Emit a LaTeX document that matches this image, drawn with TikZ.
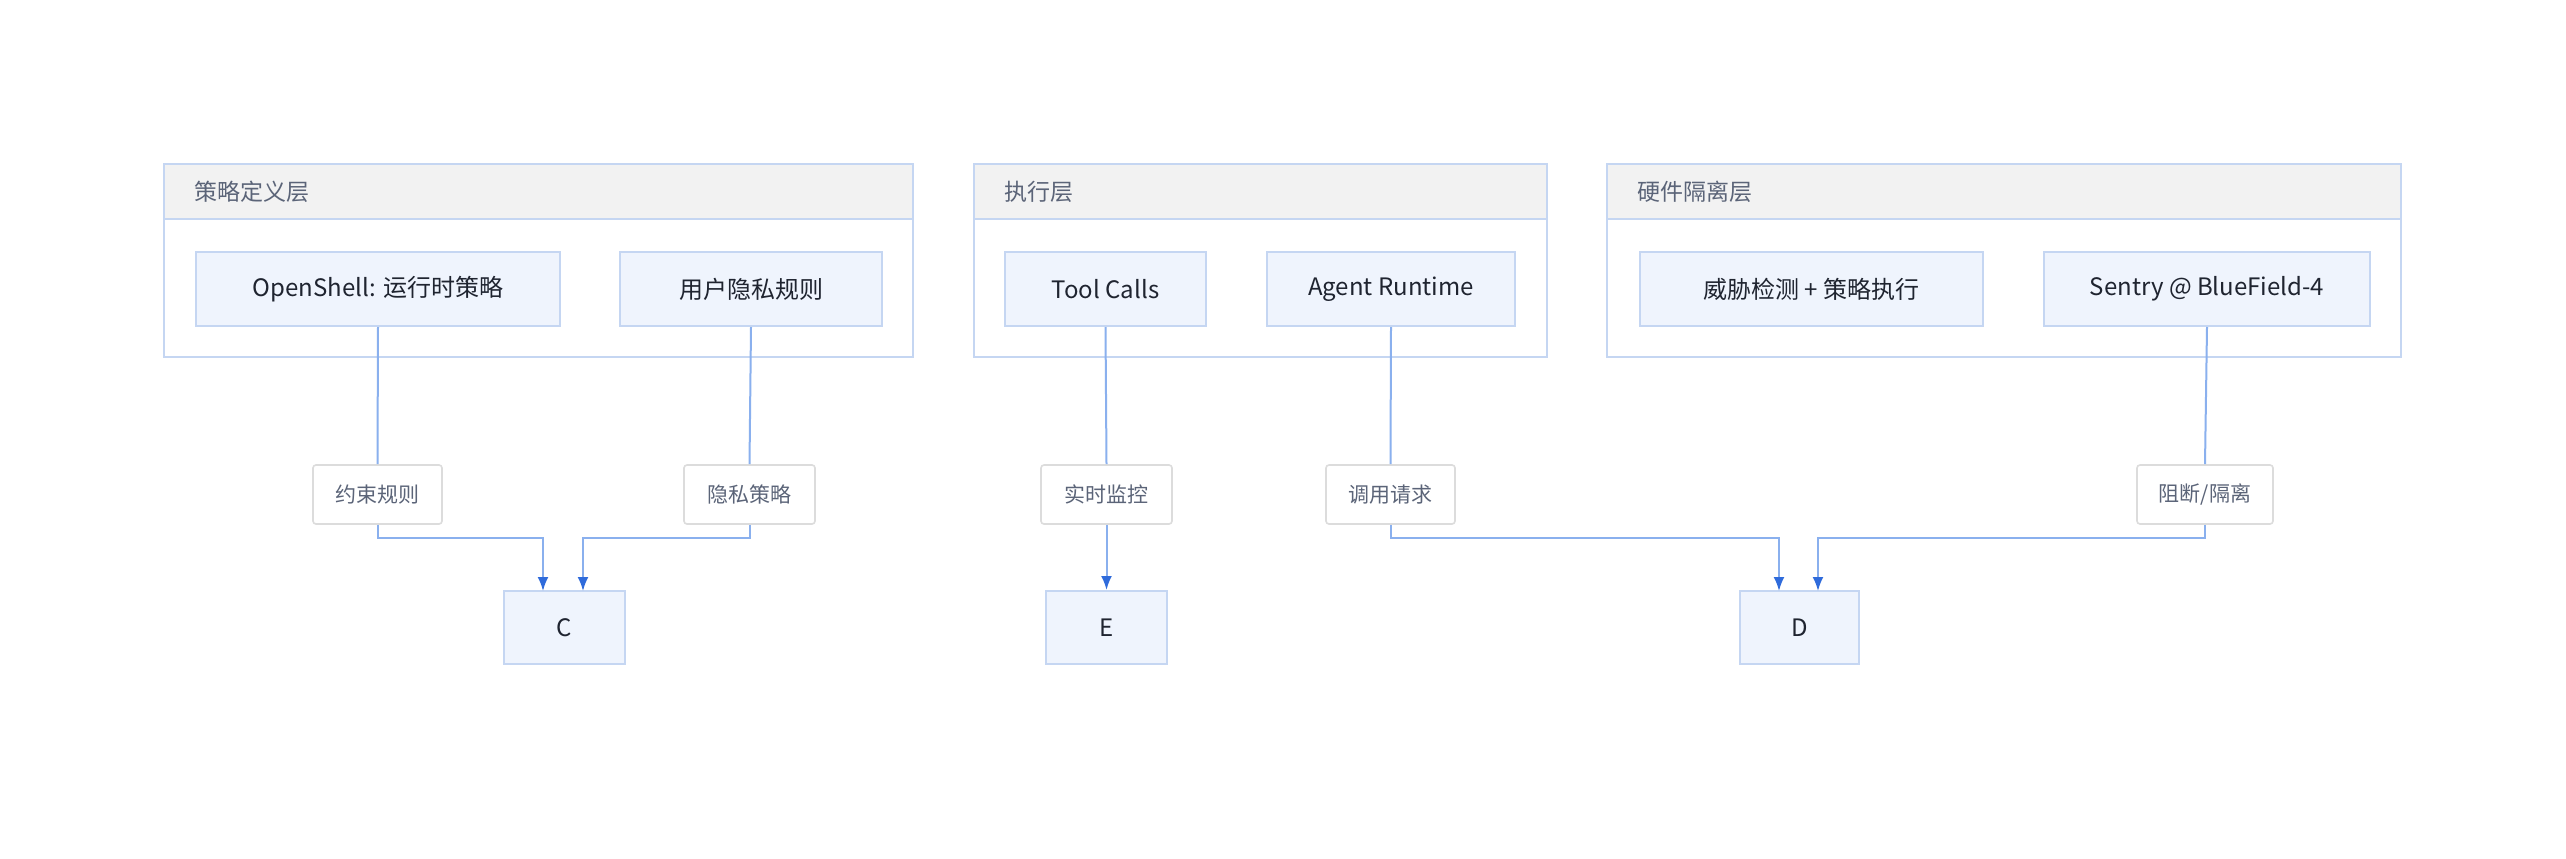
\documentclass[tikz,border=0pt]{standalone}
\usepackage{fontspec}
\setmainfont{Noto Sans CJK SC}
\usetikzlibrary{arrows.meta}
\definecolor{bd}{HTML}{C5D6F2}
\definecolor{fillb}{HTML}{EFF4FD}
\definecolor{hdr}{HTML}{F2F2F2}
\definecolor{ln}{HTML}{8AB0EE}
\definecolor{arr}{HTML}{2F6BDB}
\definecolor{txt}{HTML}{1F2430}
\definecolor{gtxt}{HTML}{5B6478}
\definecolor{lbd}{HTML}{DCDCDC}
\tikzset{
 grp/.style={draw=bd,line width=1.2pt,fill=white},
 hd/.style={draw=bd,line width=1.2pt,fill=hdr},
 box/.style={draw=bd,line width=1pt,fill=fillb,text=txt,font=\fontsize{12}{14}\selectfont,inner sep=0},
 lab/.style={draw=lbd,line width=0.8pt,fill=white,rounded corners=1.5pt,text=gtxt,font=\fontsize{10.5}{12}\selectfont,inner sep=0},
 ttl/.style={text=gtxt,font=\fontsize{11.5}{13}\selectfont,anchor=west},
 con/.style={draw=ln,line width=1pt},
 ar/.style={con,-{Latex[length=7pt,width=5.5pt,color=arr]}}
}
\begin{document}
\begin{tikzpicture}[x=0.5pt,y=-0.5pt]
\useasboundingbox[fill=white] (0,0) rectangle (2566,858);
% groups
\foreach \a/\b/\t [count=\i] in {164/913/策略定义层,974/1547/执行层,1607/2401/硬件隔离层}{
 \draw[grp] (\a,164) rectangle (\b,357);
 \draw[hd] (\a,164) rectangle (\b,219);
 \node[ttl] (g\i) at (\a+23,192) {\t};
}
\newcommand\bx[5]{\node[box,minimum width=#3*0.5pt-#2*0.5pt,minimum height=#5*0.5pt-#4*0.5pt] (#1) at ({(#2+#3)/2},{(#4+#5)/2})}
\bx{os}{196}{560}{252}{326} {OpenShell: 运行时策略};
\bx{up}{620}{882}{252}{326} {用户隐私规则};
\bx{tc}{1005}{1206}{252}{326} {Tool Calls};
\bx{ar}{1267}{1515}{252}{326} {Agent Runtime};
\bx{th}{1640}{1983}{252}{326} {威胁检测 + 策略执行};
\bx{se}{2044}{2370}{252}{326} {Sentry @ BlueField-4};
\bx{C}{504}{625}{591}{664} {C};
\bx{E}{1046}{1167}{591}{664} {E};
\bx{D}{1740}{1859}{591}{664} {D};
\newcommand\lb[4]{\node[lab,minimum width=#3*0.5pt-#2*0.5pt,minimum height=59*0.5pt] (#1) at ({(#2+#3)/2},494.5) {#4};}
\lb{l1}{313}{442}{约束规则}
\lb{l2}{684}{815}{隐私策略}
\lb{l3}{1041}{1172}{实时监控}
\lb{l4}{1326}{1455}{调用请求}
\lb{l5}{2137}{2273}{阻断/隔离}
% connectors
\draw[con] (os.south) -- (l1.north);
\draw[con] (up.south) -- (l2.north);
\draw[con] (tc.south) -- (l3.north);
\draw[con] (ar.south) -- (l4.north);
\draw[con] (se.south) -- (l5.north);
\draw[ar] (l1.south) |- (543,538) -- (543,591);
\draw[ar] (l2.south) |- (583,538) -- (583,591);
\draw[ar] (l3.south) -- (E.north);
\draw[ar] (l4.south) |- (1779,538) -- (1779,591);
\draw[ar] (l5.south) |- (1818,538) -- (1818,591);
\end{tikzpicture}
\end{document}
